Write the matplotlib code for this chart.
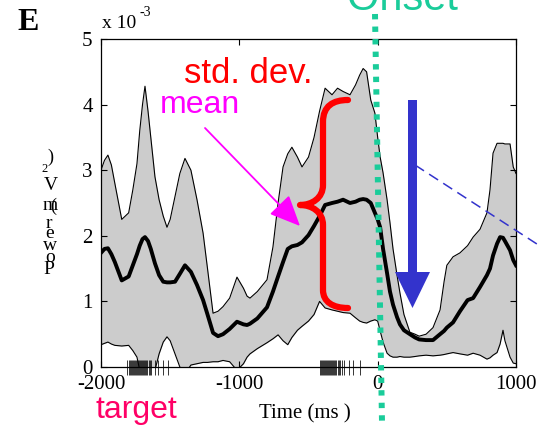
import matplotlib
matplotlib.use("Agg")
import matplotlib.pyplot as plt
import numpy as np
from matplotlib.lines import Line2D
from matplotlib.patches import Polygon, PathPatch
from matplotlib.path import Path

# ---------------- data (power in units of 1e-3 mV^2) ----------------
time_ms = [-2000, -1975, -1950, -1925, -1900, -1850, -1800, -1770, -1740, -1720,
           -1700, -1682, -1660, -1640, -1610, -1580, -1550, -1523, -1500, -1465,
           -1430, -1393, -1350, -1306, -1262, -1230, -1190, -1154, -1118, -1070,
           -1017, -970, -944, -923, -870, -800, -757, -720, -684, -650,
           -620, -580, -547, -500, -460, -420, -380, -330, -290, -250,
           -200, -160, -130, -105, -80, -50, -20, 0, 18, 39,
           68, 89, 111, 140, 161, 190, 233, 270, 300, 350,
           400, 451, 480, 500, 545, 595, 650, 690, 740, 790,
           812, 834, 863, 885, 906, 920, 957, 980, 1000]

upper_sd = [3.00, 3.15, 3.23, 3.08, 2.80, 2.25, 2.35, 2.70, 3.10, 3.60,
            4.00, 4.28, 3.90, 3.50, 2.90, 2.55, 2.30, 2.13, 2.25, 2.60,
            2.95, 3.18, 3.00, 2.55, 2.04, 1.50, 0.82, 0.85, 0.92, 1.05,
            1.37, 1.20, 1.08, 1.05, 1.15, 1.33, 1.83, 2.50, 3.05, 3.25,
            3.35, 3.20, 3.05, 3.20, 3.50, 3.90, 4.25, 4.15, 4.25, 4.20,
            4.15, 4.30, 4.45, 4.55, 4.50, 4.07, 3.87, 3.50, 3.20, 2.96,
            2.55, 2.20, 1.80, 1.40, 1.13, 0.80, 0.53, 0.50, 0.47, 0.50,
            0.60, 0.87, 1.30, 1.55, 1.68, 1.74, 1.85, 1.98, 2.10, 2.35,
            2.70, 3.26, 3.41, 3.41, 3.41, 3.40, 3.40, 3.05, 2.95]

mean_power = [1.74, 1.80, 1.81, 1.72, 1.60, 1.32, 1.38, 1.55, 1.72, 1.85,
              1.95, 1.98, 1.92, 1.80, 1.58, 1.40, 1.30, 1.29, 1.29, 1.30,
              1.42, 1.55, 1.45, 1.25, 1.02, 0.80, 0.52, 0.47, 0.50, 0.58,
              0.69, 0.65, 0.64, 0.66, 0.74, 0.91, 1.15, 1.38, 1.60, 1.80,
              1.84, 1.86, 1.90, 2.01, 2.15, 2.30, 2.47, 2.50, 2.52, 2.55,
              2.50, 2.52, 2.55, 2.56, 2.55, 2.50, 2.35, 2.25, 2.13, 1.80,
              1.43, 1.15, 0.95, 0.76, 0.65, 0.56, 0.50, 0.45, 0.42, 0.41,
              0.41, 0.50, 0.55, 0.60, 0.68, 0.85, 1.02, 1.05, 1.22, 1.40,
              1.50, 1.70, 1.88, 1.98, 1.97, 1.92, 1.78, 1.63, 1.55]

lower_sd = [0.34, 0.36, 0.38, 0.35, 0.33, 0.32, 0.33, 0.25, 0.15, -0.05,
            -0.10, -0.10, -0.10, -0.10, -0.05, 0.20, 0.38, 0.46, 0.40, 0.20,
            0.00, -0.10, 0.03, 0.05, 0.07, 0.07, 0.08, 0.08, 0.10, 0.08,
            -0.05, 0.05, 0.15, 0.20, 0.28, 0.37, 0.43, 0.49, 0.40, 0.34,
            0.45, 0.56, 0.62, 0.70, 0.80, 1.00, 0.90, 0.87, 0.85, 0.83,
            0.82, 0.75, 0.70, 0.68, 0.67, 0.70, 0.72, 0.70, 0.55, 0.38,
            0.21, 0.17, 0.15, 0.15, 0.16, 0.15, 0.15, 0.16, 0.17, 0.18,
            0.17, 0.18, 0.19, 0.20, 0.22, 0.20, 0.18, 0.21, 0.18, 0.12,
            0.14, 0.18, 0.22, 0.35, 0.56, 0.40, 0.15, 0.06, 0.05]

# event raster (ms)
target_events = [-1810, -1800, -1792, -1785, -1777, -1770, -1763, -1755, -1748, -1740,
                 -1733, -1725, -1718, -1710, -1703, -1695, -1688, -1680, -1672, -1665,
                 -1655, -1645, -1635, -1610, -1588, -1552, -1516]
onset_events = [-415, -408, -400, -393, -386, -379, -372, -365, -358, -350,
                -343, -335, -328, -320, -313, -305, -298, -290, -280, -270,
                -258, -245, -205, -180, -128]

x_ticks = [-2000, -1000, 0, 1000]
y_ticks = [0, 1, 2, 3, 4, 5]

# ---------------- figure ----------------
W, H = 538, 429
fig = plt.figure(figsize=(W / 100, H / 100), dpi=100)

def F(px, py):
    return (px / W, 1 - py / H)

SERIF = "Liberation Serif"
SANS = "Liberation Sans"

ax = fig.add_axes([101 / W, 1 - 367 / H, 415 / W, 328 / H])
ax.fill_between(time_ms, lower_sd, upper_sd, color="#CCCCCC", lw=0, zorder=1)
ax.plot(time_ms, upper_sd, color="black", lw=0.8, zorder=2)
ax.plot(time_ms, lower_sd, color="black", lw=0.8, zorder=2)
ax.plot(time_ms, mean_power, color="black", lw=2.8, zorder=3)
ax.vlines(target_events, -0.12, 0.107, color="black", lw=0.55, clip_on=False, zorder=4)
ax.vlines(onset_events, -0.12, 0.107, color="black", lw=0.55, clip_on=False, zorder=4)

ax.set_xlim(-2000, 1000)
ax.set_ylim(0, 5)
ax.set_xticks(x_ticks)
ax.set_yticks(y_ticks)
ax.set_xticklabels([str(v) for v in x_ticks])
ax.set_yticklabels([str(v) for v in y_ticks])
ax.tick_params(direction="in", length=4, width=0.8, top=True, right=True,
               labelsize=15, pad=6)
for lab in ax.get_xticklabels() + ax.get_yticklabels():
    lab.set_fontfamily(SERIF)
for s in ax.spines.values():
    s.set_linewidth(0.9)

# ---------------- texts ----------------
fig.text(*F(28, 23), "E", fontfamily=SERIF, fontweight="bold", fontsize=23,
         ha="center", va="center")
fig.text(*F(102, 28), "x 10", fontfamily=SERIF, fontsize=14, ha="left", va="baseline")
fig.text(*F(140, 16), "-3", fontfamily=SERIF, fontsize=10, ha="left", va="baseline")

ylabel_chars = [(")", 50, 157, 13), ("2", 45, 169, 9), ("V", 51, 186, 14),
                ("m", 50, 206, 14), ("(", 53, 206, 13), ("r", 49, 224, 14),
                ("e", 50, 234, 14), ("w", 50, 246, 14), ("o", 50, 257, 14),
                ("P", 49, 270, 14)]
for ch, px, py, fs in ylabel_chars:
    fig.text(*F(px, py), ch, fontfamily=SERIF, fontsize=fs, ha="center", va="center")

fig.text(*F(305, 418), "Time (ms )", fontfamily=SERIF, fontsize=15,
         ha="center", va="baseline")
fig.text(*F(136, 418), "target", fontfamily=SANS, fontsize=23, color="#FF0066",
         ha="center", va="baseline")
fig.text(*F(248, 83), "std. dev.", fontfamily=SANS, fontsize=25, color="#FF0000",
         ha="center", va="baseline")
fig.text(*F(200, 113), "mean", fontfamily=SANS, fontsize=23, color="#FF00FF",
         ha="center", va="baseline")
fig.text(*F(402, 10), "Onset", fontfamily=SANS, fontsize=30, color="#1ACC9A",
         ha="center", va="baseline")

# ---------------- annotations ----------------
teal = Line2D([F(375, 14)[0], F(382, 422)[0]], [F(375, 14)[1], F(382, 422)[1]],
              transform=fig.transFigure, color="#1ACC9A", lw=4.3,
              linestyle=(0, (0.9, 1.2)), solid_capstyle="butt",
              dash_capstyle="butt", zorder=6)
fig.add_artist(teal)

# magenta arrow
fig.add_artist(matplotlib.patches.FancyArrowPatch(
    F(205, 128), F(300, 226), transform=fig.transFigure,
    arrowstyle="-|>,head_length=1.9,head_width=0.85", mutation_scale=10,
    color="#FF00FF", lw=1.3, shrinkA=0, shrinkB=0, zorder=6))

# red brace
brace_px = [(348, 100), (333, 100), (323, 106), (323, 122), (323, 185),
            (323, 198), (312, 205), (300, 205), (312, 205), (323, 212), (323, 225),
            (323, 290), (323, 302), (333, 308), (348, 308)]
codes = [Path.MOVETO, Path.CURVE4, Path.CURVE4, Path.CURVE4, Path.LINETO,
         Path.CURVE4, Path.CURVE4, Path.CURVE4, Path.CURVE4, Path.CURVE4, Path.CURVE4,
         Path.LINETO, Path.CURVE4, Path.CURVE4, Path.CURVE4]
fig.add_artist(PathPatch(Path([F(*p) for p in brace_px], codes), fill=False,
                         edgecolor="#FF0000", lw=4.5, capstyle="round",
                         joinstyle="round", transform=fig.transFigure, zorder=6))

# blue arrow
blue_px = [(408, 100), (417, 100), (417, 272), (430, 272), (412.5, 308),
           (395, 272), (408, 272)]
fig.add_artist(Polygon([F(*p) for p in blue_px], closed=True, facecolor="#3333CC",
                       edgecolor="none", transform=fig.transFigure, zorder=6))

# blue dashed line
fig.add_artist(Line2D([F(415, 165)[0], F(540, 246)[0]], [F(415, 165)[1], F(540, 246)[1]],
                      transform=fig.transFigure, color="#3333CC", lw=1.1,
                      linestyle=(0, (7, 4)), zorder=6))

fig.savefig("out.png", dpi=100)
